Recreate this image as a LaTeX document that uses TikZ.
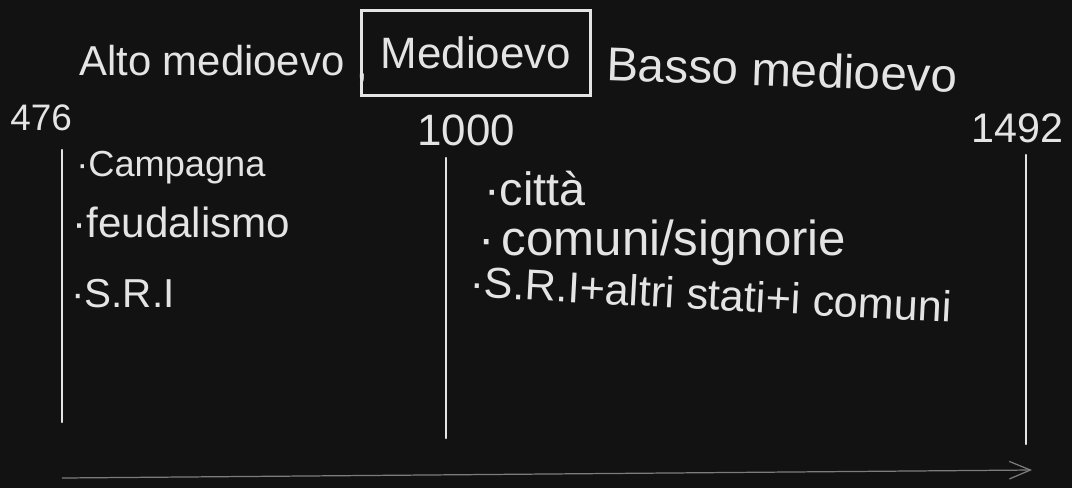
\documentclass[tikz,border=0pt]{standalone}
\usepackage{fontspec}
\setmainfont{Liberation Sans}
\usetikzlibrary{arrows.meta}
\definecolor{bg}{HTML}{121212}
\definecolor{ink}{HTML}{E4E4E4}
\definecolor{axisgray}{HTML}{7C7C7C}
\begin{document}
\begin{tikzpicture}[x=0.02cm,y=-0.02cm,
  hw/.style={text=ink, inner sep=0pt, anchor=base west, font=\fontsize{#1}{#1}\selectfont},
  period/.style={draw=ink, line width=1.4pt, line cap=round},
  timeaxis/.style={draw=axisgray, line width=0.7pt, -{Straight Barb[length=12pt,width=10pt]}}
  ]
\fill[bg] (0,0) rectangle (1072,488);
\useasboundingbox (0,0) rectangle (1072,488);

% titles
\node[hw=23.8pt] (alto) at (79,75) {Alto medioevo};
\node[hw=23.8pt] (comma) at (356,78) {,};
\node[draw=ink, line width=1.4pt, minimum width=4.58cm, minimum height=1.7cm,
      inner sep=0pt, text=ink, font=\fontsize{25pt}{25pt}\selectfont] (medio) at (476,53) {Medioevo};
\node[hw=27pt, rotate=-2] (basso) at (606,80) {Basso medioevo};

% years
\node[hw=21pt] (y476) at (10,130) {476};
\node[hw=25pt] (y1000) at (417,145) {1000};
\node[hw=23.5pt] (y1492) at (971,142) {1492};

% period lines
\coordinate (l1t) at (62,150);
\coordinate (l1b) at (62,422);
\coordinate (l2t) at (446,158);
\coordinate (l2b) at (446,438);
\coordinate (l3t) at (1026,155);
\coordinate (l3b) at (1026,444);
\draw[period] (l1t) -- (l1b);
\draw[period] (l2t) -- (l2b);
\draw[period] (l3t) -- (l3b);

% left items
\node[hw=20.6pt] (campagna) at (76,176) {·Campagna};
\node[hw=24pt] (feud) at (72,237) {·feudalismo};
\node[hw=23pt] (sri) at (71,307) {·S.R.I};

% right items
\node[hw=26.6pt] (citta) at (484,205) {·città};
\node[hw=28pt] (comuni) at (478,255) {·\hspace{4pt}comuni/signorie};
\node[hw=24.6pt, rotate=-3] (srialtri) at (469,297) {·S.R.I+altri stati+i comuni};

% time axis
\coordinate (axs) at (62,478);
\coordinate (axe) at (1032,470);
\draw[timeaxis] (axs) -- (axe);
\end{tikzpicture}
\end{document}
